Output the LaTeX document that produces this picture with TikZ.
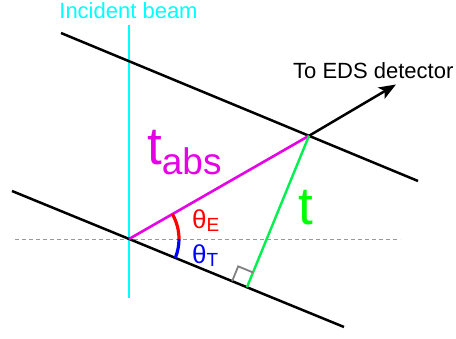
\documentclass[tikz,border=0pt]{standalone}
\usepackage{fontspec}
\setmainfont{Liberation Sans}
\usetikzlibrary{arrows.meta,calc}
\definecolor{beamcyan}{RGB}{0,255,255}
\definecolor{abspink}{RGB}{230,0,230}
\definecolor{thickgreen}{RGB}{0,240,80}
\definecolor{tgreen}{RGB}{0,255,0}

\begin{document}
\begin{tikzpicture}[x=1pt,y=1pt,
  lbl/.style={inner sep=0pt,anchor=base west}]
  \useasboundingbox (0,0) rectangle (456,338);
  % specimen surfaces and beam
  \coordinate (T1) at (61,305);  \coordinate (T2) at (418,157);
  \coordinate (B1) at (12,147);  \coordinate (B2) at (344,11);
  \coordinate (C1) at (129,313); \coordinate (C2) at (129,40);
  \coordinate (H1) at (15,98.5); \coordinate (H2) at (400,98.5);
  \coordinate (O) at (129,99);
  \coordinate (P) at (309,202.2);
  \coordinate (F) at ($(B1)!(P)!(B2)$);
  \coordinate (D) at (396,253.5);
  \draw[beamcyan,line width=1.8pt] (C1) -- (C2);
  \draw[gray!80,line width=1.8pt,dash pattern=on 4pt off 3pt] (H1) -- (H2);
  \draw[line width=2.5pt] (T1) -- (T2);
  \draw[line width=2.5pt] (B1) -- (B2);
  \draw[line width=2.5pt,-{Stealth[length=17pt,width=13pt,inset=4pt]}] (P) -- (D);
  \draw[abspink,line width=2.6pt] (O) -- (P);
  \draw[thickgreen,line width=2.4pt] (P) -- (F);
  % right angle
  \draw[gray,line width=1.8pt] ($(F)!16pt!(O)$) -- ($(F)!16pt!(O)!16pt!90:(F)$)
    -- ($(F)!16pt!(P)$);
  % angles
  \draw[red,line width=3.2pt] ($(O)+(50,0)$) arc[start angle=0,end angle=29.8,radius=50];
  \draw[blue,line width=3.2pt] ($(O)+(50,0)$) arc[start angle=0,end angle=-22.3,radius=50];
  % labels
  \node[lbl,beamcyan,anchor=base] (beam) at (128.5,319.7)
    {\fontsize{22}{22}\selectfont Incident beam};
  \node[lbl] (eds) at (293,259.7) {\fontsize{22}{22}\selectfont To EDS detector};
  \node[lbl,abspink] (tabs) at (147,173)
    {\fontsize{53}{53}\selectfont t\fontsize{37}{37}\selectfont\raisebox{-10pt}{abs}};
  \node[lbl,tgreen] (t) at (298,113) {\fontsize{53}{53}\selectfont t};
  \node[lbl,red] (thE) at (192,109.7)
    {\fontsize{26}{26}\selectfont θ\fontsize{19}{19}\selectfont\raisebox{-3pt}{E}};
  \node[lbl,blue] (thT) at (192,74.7)
    {\fontsize{26}{26}\selectfont θ\fontsize{19}{19}\selectfont\raisebox{-3pt}{T}};
\end{tikzpicture}
\end{document}
